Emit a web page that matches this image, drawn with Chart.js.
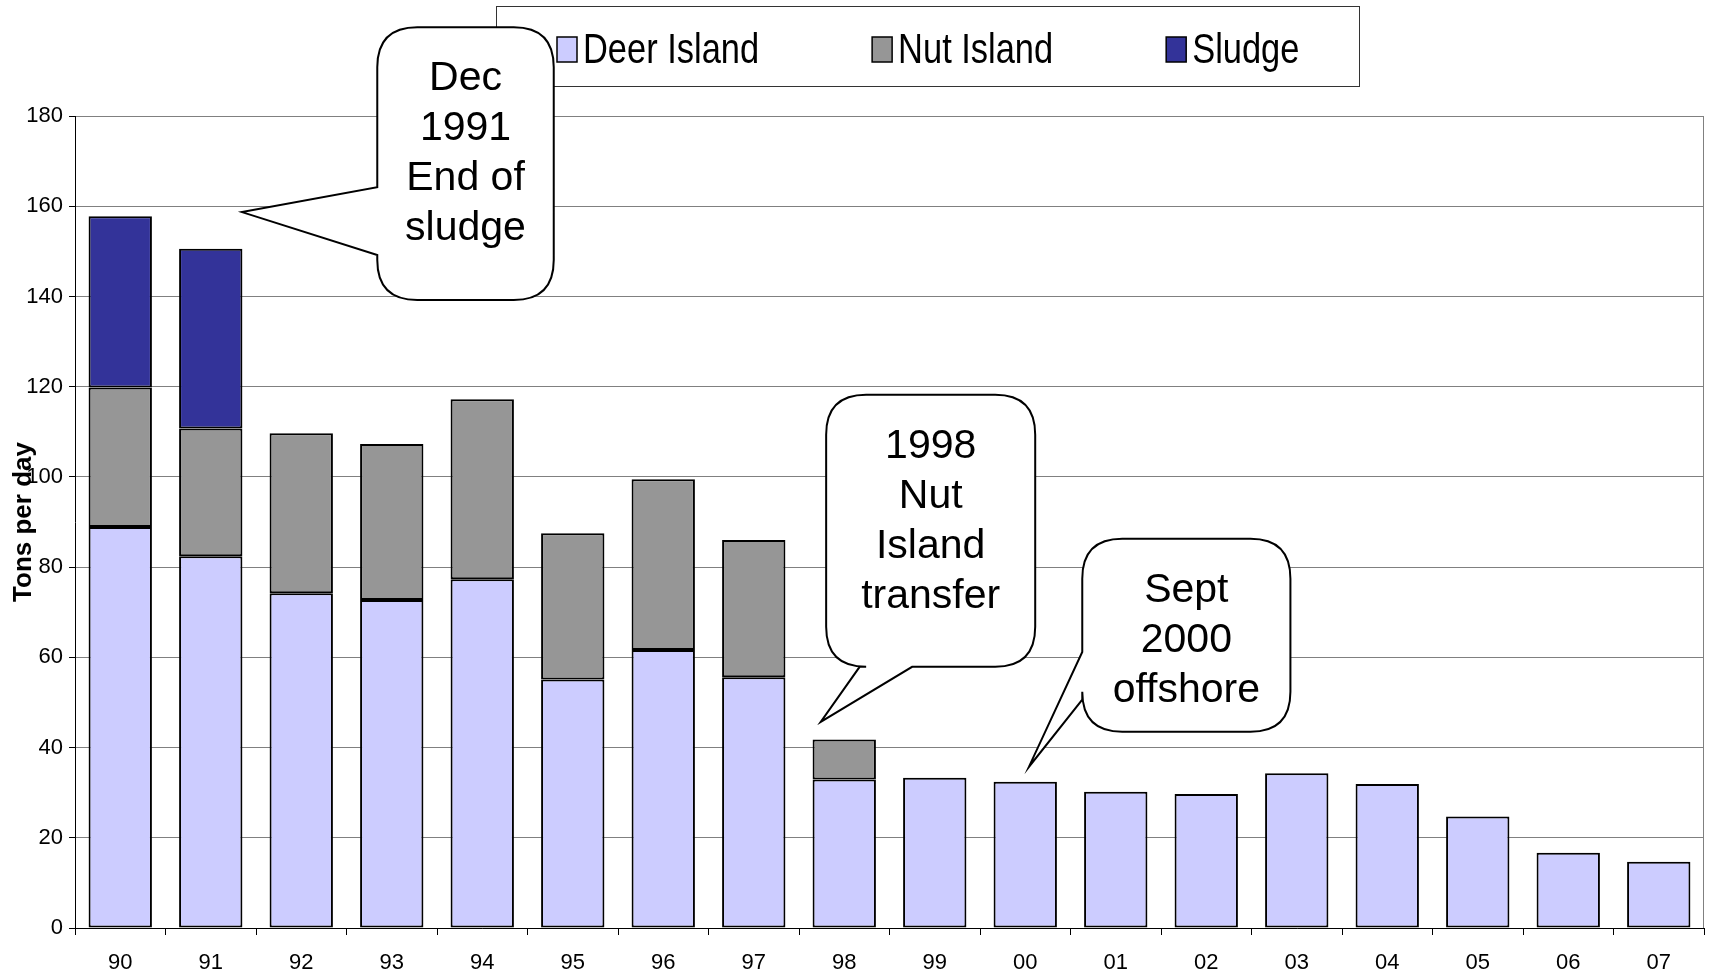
<!DOCTYPE html>
<html>
<head>
<meta charset="utf-8">
<title>Tons per day</title>
<script src="https://cdn.jsdelivr.net/npm/chart.js@4.4.1/dist/chart.umd.min.js"></script>
<style>
  html, body { margin: 0; padding: 0; background: #fff; }
  #wrap { width: 1709px; height: 976px; position: relative; }
</style>
</head>
<body>
<div id="wrap"><canvas id="chart"></canvas></div>
<script>
// Datos del gráfico
const years = ['90', '91', '92', '93', '94', '95', '96', '97', '98', '99', '00', '01', '02', '03', '04', '05', '06', '07'];
const deerIsland = [88.9, 82.4, 74.2, 72.7, 77.3, 55.1, 61.6, 55.6, 32.9, 33.3, 32.4, 30.2, 29.7, 34.3, 31.9, 24.7, 16.7, 14.7];
const nutIsland = [30.9, 28.3, 35.5, 34.6, 39.9, 32.4, 37.9, 30.4, 8.9, null, null, null, null, null, null, null, null, null];
const sludge = [38.0, 39.9, null, null, null, null, null, null, null, null, null, null, null, null, null, null, null, null];
const yTicks = [0, 20, 40, 60, 80, 100, 120, 140, 160, 180];

// Globos de texto: caja y punta en unidades de datos (índice de categoría, toneladas)
const callouts = [
  { lines: ['Dec', '1991', 'End of', 'sludge'], box: [2.84, 4.79, 199.7, 139.2], tip: [1.345, 158.7], side: 'left', base: [149.2, 164.2] },
  { lines: ['1998', 'Nut', 'Island', 'transfer'], box: [7.80, 10.11, 118.2, 57.9], tip: [7.74, 45.7], side: 'bottom', base: [8.75, 8.17] },
  { lines: ['Sept', '2000', 'offshore'], box: [10.63, 12.93, 86.3, 43.5], tip: [10.04, 35.7], side: 'left', base: [50.6, 61.2] }
];

const regular = "'Liberation Sans', Arial, sans-serif";

// Leyenda con marco y globos dibujados encima del gráfico
const overlayPlugin = {
  id: 'overlay',
  afterDraw(chart) {
    const ctx = chart.ctx;
    const area = chart.chartArea;
    const xs = chart.scales.x;
    const ys = chart.scales.y;

    // borde derecho del área de trazado
    ctx.save();
    ctx.strokeStyle = '#808080';
    ctx.lineWidth = 1;
    ctx.beginPath();
    ctx.moveTo(area.right - 0.5, area.top);
    ctx.lineTo(area.right - 0.5, area.bottom);
    ctx.stroke();
    ctx.restore();

    // leyenda (texto estrecho, como Arial Narrow)
    const lb = { left: 496, top: 6, right: 1359, bottom: 86 };
    const squeeze = 0.82;
    ctx.save();
    ctx.fillStyle = '#fff';
    ctx.fillRect(lb.left, lb.top, lb.right - lb.left, lb.bottom - lb.top);
    ctx.strokeStyle = '#333';
    ctx.lineWidth = 1;
    ctx.strokeRect(lb.left + 0.5, lb.top + 0.5, lb.right - lb.left, lb.bottom - lb.top);
    ctx.font = '42px ' + regular;
    ctx.textBaseline = 'alphabetic';
    const sw = 20, sh = 25, gapText = 6, gapItem = 113;
    let x = lb.left + 61;
    chart.data.datasets.forEach(ds => {
      const w = ctx.measureText(ds.label).width * squeeze;
      ctx.fillStyle = ds.backgroundColor;
      ctx.fillRect(x, 37, sw, sh);
      ctx.strokeStyle = '#000';
      ctx.lineWidth = 1.5;
      ctx.strokeRect(x, 37, sw, sh);
      ctx.save();
      ctx.translate(x + sw + gapText, 63);
      ctx.scale(squeeze, 1);
      ctx.fillStyle = '#000';
      ctx.fillText(ds.label, 0, 0);
      ctx.restore();
      x += sw + gapText + w + gapItem;
    });
    ctx.restore();

    // globos
    callouts.forEach(c => {
      const l = xs.getPixelForValue(c.box[0]);
      const r = xs.getPixelForValue(c.box[1]);
      const t = ys.getPixelForValue(c.box[2]);
      const b = ys.getPixelForValue(c.box[3]);
      const tx = xs.getPixelForValue(c.tip[0]);
      const ty = ys.getPixelForValue(c.tip[1]);
      const rad = 40;
      ctx.save();
      ctx.beginPath();
      ctx.moveTo(l + rad, t);
      ctx.lineTo(r - rad, t);
      ctx.quadraticCurveTo(r, t, r, t + rad);
      ctx.lineTo(r, b - rad);
      ctx.quadraticCurveTo(r, b, r - rad, b);
      if (c.side === 'bottom') {
        ctx.lineTo(xs.getPixelForValue(c.base[0]), b);
        ctx.lineTo(tx, ty);
        ctx.lineTo(xs.getPixelForValue(c.base[1]), b);
      }
      ctx.lineTo(l + rad, b);
      ctx.quadraticCurveTo(l, b, l, b - rad);
      if (c.side === 'left') {
        ctx.lineTo(l, ys.getPixelForValue(c.base[0]));
        ctx.lineTo(tx, ty);
        ctx.lineTo(l, ys.getPixelForValue(c.base[1]));
      }
      ctx.lineTo(l, t + rad);
      ctx.quadraticCurveTo(l, t, l + rad, t);
      ctx.closePath();
      ctx.fillStyle = '#fff';
      ctx.fill();
      ctx.strokeStyle = '#000';
      ctx.lineWidth = 2;
      ctx.stroke();
      ctx.fillStyle = '#000';
      ctx.font = '41px ' + regular;
      ctx.textAlign = 'center';
      ctx.textBaseline = 'alphabetic';
      c.lines.forEach((line, i) => {
        ctx.fillText(line, (l + r) / 2, t + 63 + i * 50);
      });
      ctx.restore();
    });
  }
};

const barStyle = { borderColor: '#000', borderWidth: 2, borderSkipped: false, categoryPercentage: 1, barPercentage: 0.7 };

new Chart(document.getElementById('chart'), {
  type: 'bar',
  data: {
    labels: years,
    datasets: [
      Object.assign({ label: 'Deer Island', data: deerIsland, backgroundColor: '#CCCCFF' }, barStyle),
      Object.assign({ label: 'Nut Island', data: nutIsland, backgroundColor: '#969696' }, barStyle),
      Object.assign({ label: 'Sludge', data: sludge, backgroundColor: '#333399' }, barStyle)
    ]
  },
  options: {
    responsive: true,
    maintainAspectRatio: false,
    animation: false,
    layout: { padding: { top: 116, right: 5, left: 0, bottom: 0 } },
    plugins: {
      legend: { display: false },
      tooltip: { enabled: false }
    },
    scales: {
      x: {
        stacked: true,
        offset: true,
        grid: { display: true, drawOnChartArea: false, drawTicks: true, tickLength: 7, tickColor: '#000', offset: true },
        border: { color: '#000', width: 1 },
        ticks: { color: '#000', font: { family: regular, size: 22 }, padding: 15, maxRotation: 0, autoSkip: false },
        afterFit: s => { s.height = 48; }
      },
      y: {
        stacked: true,
        min: 0,
        max: 180,
        afterBuildTicks: s => { s.ticks = yTicks.map(v => ({ value: v })); },
        grid: { color: '#808080', tickColor: '#000', tickLength: 6 },
        border: { color: '#000', width: 1 },
        ticks: { color: '#000', font: { family: regular, size: 22 }, padding: 6 },
        title: { display: true, text: 'Tons per day', color: '#000', font: { family: regular, size: 26, weight: 'bold' }, padding: { top: 8, bottom: 0 } },
        afterFit: s => { s.width = 75; }
      }
    }
  },
  plugins: [overlayPlugin]
});
</script>
</body>
</html>
